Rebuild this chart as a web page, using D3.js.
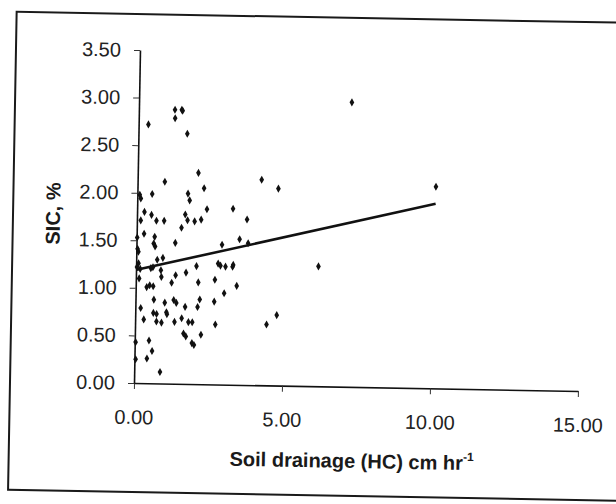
<!DOCTYPE html>
<html>
<head>
<meta charset="utf-8">
<script src="https://cdn.jsdelivr.net/npm/d3@7"></script>
<style>
    body { margin: 0; background: #fff; }
    svg { display: block; font-family: "Liberation Sans", Arial, sans-serif; }
</style>
</head>
<body>
<svg></svg>
<script>
//-------------------
//   DATA
//-------------------
var drainage = [
    0.92, 2.25, 4.19, 4.76, 7.19, 10.08, 6.16, 4.78, 4.44, 1.22,
    1.45, 1.48, 1.23, 0.33, 1.65, 2.05, 0.08, 0.12, 0.50, 1.71,
    1.77, 0.25, 0.49, 0.13, 0.66, 0.92, 1.63, 1.71, 1.95, 2.17,
    2.36, 1.51, 3.24, 3.72, 0.25, 0.61, 0.02, 0.04, 0.07, 0.58,
    0.63, 1.31, 2.89, 3.48, 3.77, 0.08, 0.03, 0.14, 0.71, 0.90,
    0.57, 0.50, 0.84, 2.04, 2.77, 2.85, 3.02, 3.26, 3.28, 1.69,
    1.34, 0.86, 0.11, 1.21, 2.11, 2.67, 0.47, 0.37, 0.59, 3.41,
    2.99, 0.62, 1.29, 1.38, 2.17, 2.66, 0.99, 0.18, 1.68, 2.10,
    1.05, 1.07, 0.61, 0.72, 0.29, 0.72, 0.89, 1.33, 1.57, 1.80,
    1.93, 2.71, 1.64, 1.72, 2.23, 1.93, 2.00, 0.03, 0.48, 0.59,
    0.42, 0.04, 0.87
];

var sic = [
    2.12, 2.06, 2.16, 2.07, 2.99, 2.12, 1.26, 0.74, 0.64, 2.88,
    2.88, 2.87, 2.79, 2.72, 2.63, 2.22, 1.98, 1.94, 1.99, 2.00,
    1.93, 1.80, 1.77, 1.71, 1.71, 1.71, 1.78, 1.72, 1.71, 1.73,
    1.84, 1.64, 1.85, 1.74, 1.57, 1.54, 1.53, 1.41, 1.38, 1.47,
    1.44, 1.48, 1.47, 1.53, 1.49, 1.26, 1.22, 1.20, 1.30, 1.32,
    1.22, 1.21, 1.19, 1.24, 1.27, 1.25, 1.24, 1.24, 1.26, 1.17,
    1.14, 1.12, 1.10, 1.06, 1.07, 1.10, 1.03, 1.01, 1.02, 1.04,
    0.96, 0.88, 0.88, 0.85, 0.89, 0.87, 0.85, 0.79, 0.81, 0.81,
    0.75, 0.73, 0.74, 0.73, 0.67, 0.65, 0.64, 0.65, 0.69, 0.65,
    0.65, 0.63, 0.53, 0.50, 0.52, 0.43, 0.41, 0.43, 0.45, 0.34,
    0.26, 0.25, 0.12
];

// trend line end points
var trendX = [0.02, 10.08];
var trendY = [1.19, 1.94];

var xTicks = [0, 5, 10, 15];
var yTicks = [0, 0.5, 1, 1.5, 2, 2.5, 3, 3.5];

//-------------------
//   SETUP
//-------------------
var width = 616,
    height = 504;

var svg = d3.select("svg")
    .attr("width", width)
    .attr("height", height);

// the scanned page is tilted about one degree
var page = svg.append("g")
    .attr("transform", "rotate(1.03,134,383)");

page.append("rect")
    .attr("x", 10)
    .attr("y", 14)
    .attr("width", 720)
    .attr("height", 478)
    .attr("fill", "none")
    .attr("stroke", "#1a1a1a")
    .attr("stroke-width", 2);

var x = d3.scaleLinear().domain([0, 15]).range([134, 578]);
var y = d3.scaleLinear().domain([0, 3.5]).range([383, 50]);
var fmt = d3.format(".2f");

//-------------------
//   AXES
//-------------------
var xAxis = page.append("g")
    .attr("transform", "translate(0,383)")
    .call(d3.axisBottom(x).tickValues(xTicks).tickFormat(fmt).tickSize(6).tickSizeOuter(0));

xAxis.selectAll("text")
    .attr("y", 41)
    .attr("dy", null);

var yAxis = page.append("g")
    .attr("transform", "translate(134,0)")
    .call(d3.axisLeft(y).tickValues(yTicks).tickFormat(fmt).tickSize(6).tickSizeOuter(0));

yAxis.selectAll("text")
    .attr("x", -19);

page.selectAll(".domain")
    .attr("stroke", "#111")
    .attr("stroke-width", 1.6);
page.selectAll(".tick line")
    .attr("stroke", "#333");
page.selectAll(".tick text")
    .attr("font-size", 20)
    .attr("font-family", "'Liberation Sans', Arial, sans-serif")
    .attr("fill", "#222");

//-------------------
//   POINTS + TREND
//-------------------
page.append("g")
    .selectAll("path")
    .data(d3.zip(drainage, sic))
    .join("path")
    .attr("d", d3.symbol(d3.symbolDiamond, 19))
    .attr("fill", "#111")
    .attr("transform", d => "translate(" + x(d[0]) + "," + y(d[1]) + ")");

page.append("path")
    .datum(d3.zip(trendX, trendY))
    .attr("fill", "none")
    .attr("stroke", "#111")
    .attr("stroke-width", 2.6)
    .attr("d", d3.line().x(d => x(d[0])).y(d => y(d[1])));

//-------------------
//   TITLES
//-------------------
var xTitle = page.append("text")
    .attr("x", 353)
    .attr("y", 464)
    .attr("text-anchor", "middle")
    .attr("font-size", 20)
    .attr("font-weight", "bold")
    .attr("fill", "#1a1a1a");
xTitle.append("tspan").text("Soil drainage (HC) cm hr");
xTitle.append("tspan")
    .attr("dy", -9)
    .attr("font-size", 12)
    .text("-1");

page.append("text")
    .attr("transform", "translate(50,215) rotate(-90)")
    .attr("dy", "0.35em")
    .attr("text-anchor", "middle")
    .attr("font-size", 20)
    .attr("font-weight", "bold")
    .attr("fill", "#1a1a1a")
    .text("SIC, %");
</script>
</body>
</html>
